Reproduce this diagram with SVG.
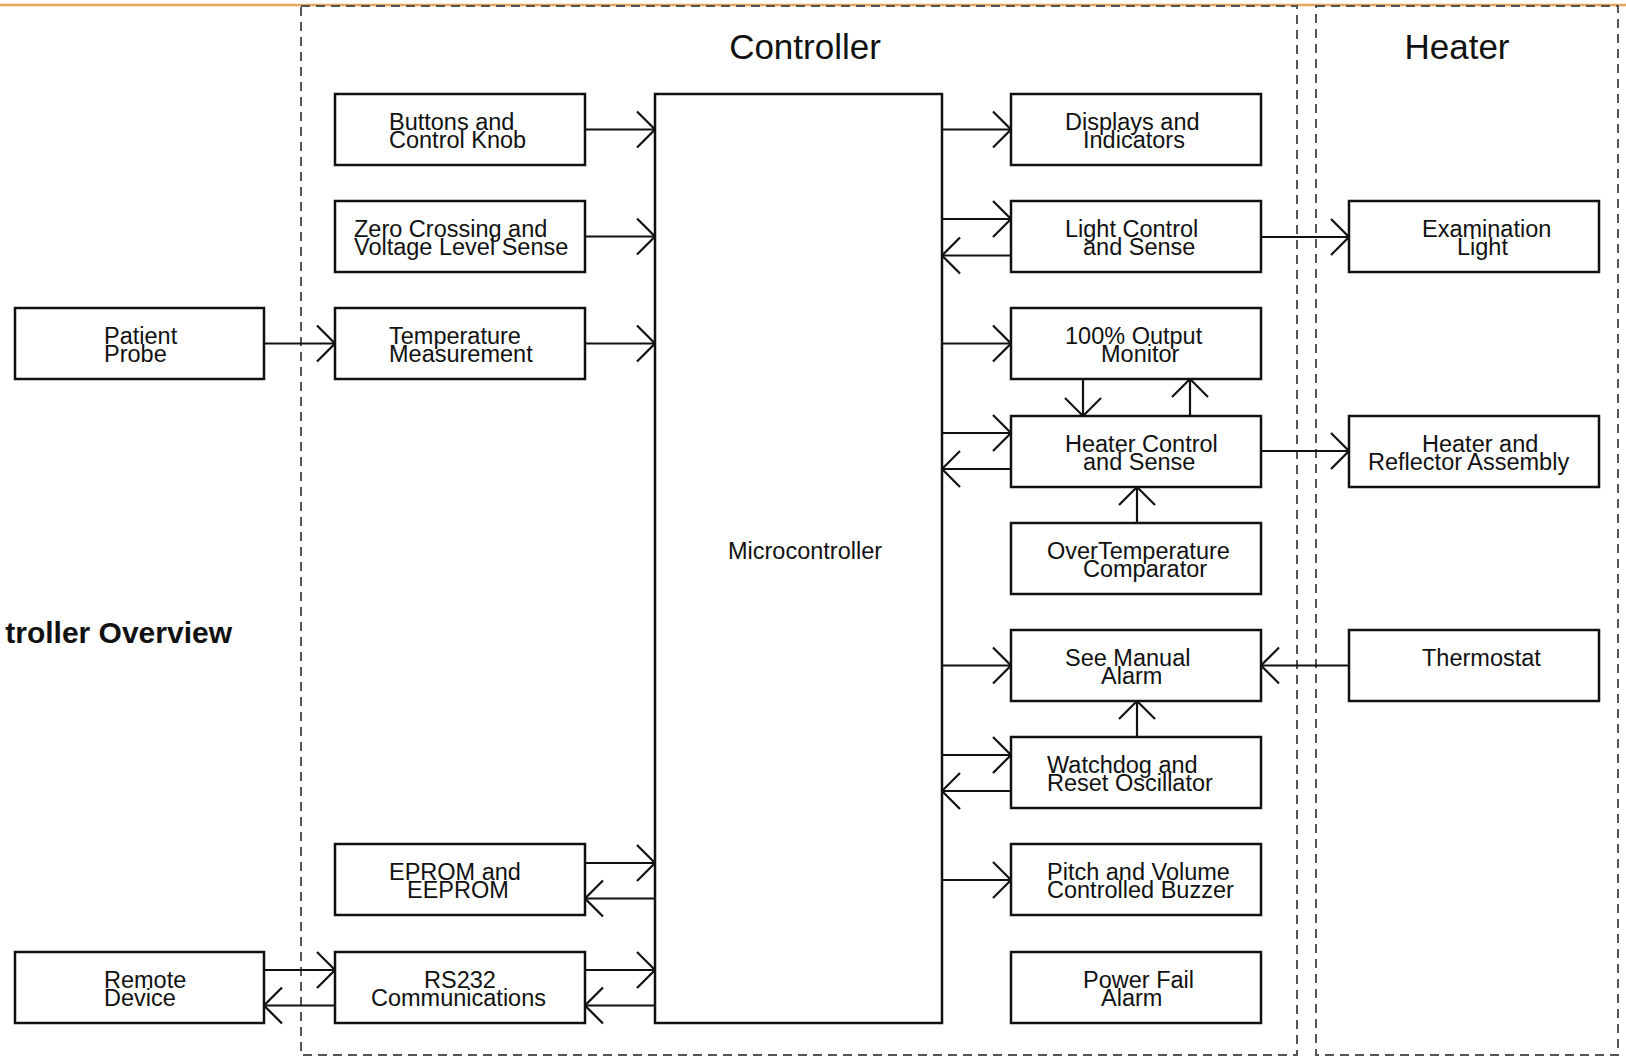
<svg xmlns="http://www.w3.org/2000/svg" width="1626" height="1058" viewBox="0 0 1626 1058">
<style>
.box{fill:#fff;stroke:#111;stroke-width:2.5}
.t{font-family:"Liberation Sans",Arial,sans-serif;font-size:23.5px;fill:#111}
.title{font-family:"Liberation Sans",Arial,sans-serif;font-size:35px;fill:#111}
.bold{font-family:"Liberation Sans",Arial,sans-serif;font-size:30px;font-weight:bold;fill:#111}
.dash{fill:none;stroke:#555;stroke-width:2;stroke-dasharray:9 6}
.c{fill:none;stroke:#111;stroke-width:2.2;marker-end:url(#chev)}
</style>
<defs>
<marker id="chev" markerUnits="userSpaceOnUse" viewBox="-20 -20 22 40" markerWidth="22" markerHeight="40" refX="0" refY="0" orient="auto" overflow="visible">
<path d="M-18,-18 L0,0 L-18,18" fill="none" stroke="#111" stroke-width="2.2"/>
</marker>
</defs>
<rect width="1626" height="1058" fill="#fff"/>
<line x1="0" y1="5" x2="1626" y2="5" stroke="#e6a65a" stroke-width="2.5"/>
<g id="frames">
<rect class="dash" x="301" y="6" width="996" height="1049"/>
<rect class="dash" x="1316" y="6" width="302" height="1049"/>
</g>
<text class="title" x="805" y="59" text-anchor="middle">Controller</text>
<text class="title" x="1457" y="59" text-anchor="middle">Heater</text>
<text class="bold" x="232" y="643" text-anchor="end">troller Overview</text>

<g id="connectors">
<line class="c" x1="585" y1="129.5" x2="655" y2="129.5"/>
<line class="c" x1="585" y1="236.5" x2="655" y2="236.5"/>
<line class="c" x1="585" y1="343.5" x2="655" y2="343.5"/>
<line class="c" x1="264" y1="343.5" x2="335" y2="343.5"/>
<line class="c" x1="942" y1="129.5" x2="1011" y2="129.5"/>
<line class="c" x1="942" y1="219" x2="1011" y2="219"/>
<line class="c" x1="1011" y1="255.5" x2="942" y2="255.5"/>
<line class="c" x1="942" y1="343.5" x2="1011" y2="343.5"/>
<line class="c" x1="1083" y1="379" x2="1083" y2="416"/>
<line class="c" x1="1190" y1="416" x2="1190" y2="379"/>
<line class="c" x1="942" y1="433" x2="1011" y2="433"/>
<line class="c" x1="1011" y1="469" x2="942" y2="469"/>
<line class="c" x1="1261" y1="451" x2="1349" y2="451"/>
<line class="c" x1="1137" y1="523" x2="1137" y2="487"/>
<line class="c" x1="942" y1="665.5" x2="1011" y2="665.5"/>
<line class="c" x1="1349" y1="665.5" x2="1261" y2="665.5"/>
<line class="c" x1="1137" y1="737" x2="1137" y2="701"/>
<line class="c" x1="942" y1="755" x2="1011" y2="755"/>
<line class="c" x1="1011" y1="791" x2="942" y2="791"/>
<line class="c" x1="942" y1="880" x2="1011" y2="880"/>
<line class="c" x1="1261" y1="237" x2="1349" y2="237"/>
<line class="c" x1="585" y1="863" x2="655" y2="863"/>
<line class="c" x1="655" y1="898.5" x2="585" y2="898.5"/>
<line class="c" x1="585" y1="970" x2="655" y2="970"/>
<line class="c" x1="655" y1="1005.5" x2="585" y2="1005.5"/>
<line class="c" x1="264" y1="970" x2="335" y2="970"/>
<line class="c" x1="335" y1="1005.5" x2="264" y2="1005.5"/>
</g>

<g id="micro"><rect class="box" x="655" y="94" width="287" height="929"/><text class="t" x="805" y="559" text-anchor="middle">Microcontroller</text></g>

<g id="buttons"><rect class="box" x="335" y="94" width="250" height="71"/><text class="t" x="389" y="130">Buttons and</text><text class="t" x="389" y="147.5">Control Knob</text></g>
<g id="zero"><rect class="box" x="335" y="201" width="250" height="71"/><text class="t" x="354" y="237">Zero Crossing and</text><text class="t" x="354" y="254.5">Voltage Level Sense</text></g>
<g id="temp"><rect class="box" x="335" y="308" width="250" height="71"/><text class="t" x="389" y="344">Temperature</text><text class="t" x="389" y="361.5">Measurement</text></g>
<g id="eprom"><rect class="box" x="335" y="844" width="250" height="71"/><text class="t" x="389" y="880">EPROM and</text><text class="t" x="407" y="897.5">EEPROM</text></g>
<g id="rs232"><rect class="box" x="335" y="952" width="250" height="71"/><text class="t" x="424" y="988">RS232</text><text class="t" x="371" y="1005.5">Communications</text></g>
<g id="patient"><rect class="box" x="15" y="308" width="249" height="71"/><text class="t" x="104" y="344">Patient</text><text class="t" x="104" y="361.5">Probe</text></g>
<g id="remote"><rect class="box" x="15" y="952" width="249" height="71"/><text class="t" x="104" y="988">Remote</text><text class="t" x="104" y="1005.5">Device</text></g>

<g id="displays"><rect class="box" x="1011" y="94" width="250" height="71"/><text class="t" x="1065" y="130">Displays and</text><text class="t" x="1083" y="147.5">Indicators</text></g>
<g id="light"><rect class="box" x="1011" y="201" width="250" height="71"/><text class="t" x="1065" y="237">Light Control</text><text class="t" x="1083" y="254.5">and Sense</text></g>
<g id="output"><rect class="box" x="1011" y="308" width="250" height="71"/><text class="t" x="1065" y="344">100% Output</text><text class="t" x="1101" y="361.5">Monitor</text></g>
<g id="heaterctl"><rect class="box" x="1011" y="416" width="250" height="71"/><text class="t" x="1065" y="452">Heater Control</text><text class="t" x="1083" y="469.5">and Sense</text></g>
<g id="overtemp"><rect class="box" x="1011" y="523" width="250" height="71"/><text class="t" x="1047" y="559">OverTemperature</text><text class="t" x="1083" y="576.5">Comparator</text></g>
<g id="seemanual"><rect class="box" x="1011" y="630" width="250" height="71"/><text class="t" x="1065" y="666">See Manual</text><text class="t" x="1101" y="683.5">Alarm</text></g>
<g id="watchdog"><rect class="box" x="1011" y="737" width="250" height="71"/><text class="t" x="1047" y="773">Watchdog and</text><text class="t" x="1047" y="790.5">Reset Oscillator</text></g>
<g id="pitch"><rect class="box" x="1011" y="844" width="250" height="71"/><text class="t" x="1047" y="880">Pitch and Volume</text><text class="t" x="1047" y="897.5">Controlled Buzzer</text></g>
<g id="powerfail"><rect class="box" x="1011" y="952" width="250" height="71"/><text class="t" x="1083" y="988">Power Fail</text><text class="t" x="1101" y="1005.5">Alarm</text></g>

<g id="exam"><rect class="box" x="1349" y="201" width="250" height="71"/><text class="t" x="1422" y="237">Examination</text><text class="t" x="1457" y="254.5">Light</text></g>
<g id="reflector"><rect class="box" x="1349" y="416" width="250" height="71"/><text class="t" x="1422" y="452">Heater and</text><text class="t" x="1368" y="469.5">Reflector Assembly</text></g>
<g id="thermostat"><rect class="box" x="1349" y="630" width="250" height="71"/><text class="t" x="1422" y="666">Thermostat</text></g>
</svg>
